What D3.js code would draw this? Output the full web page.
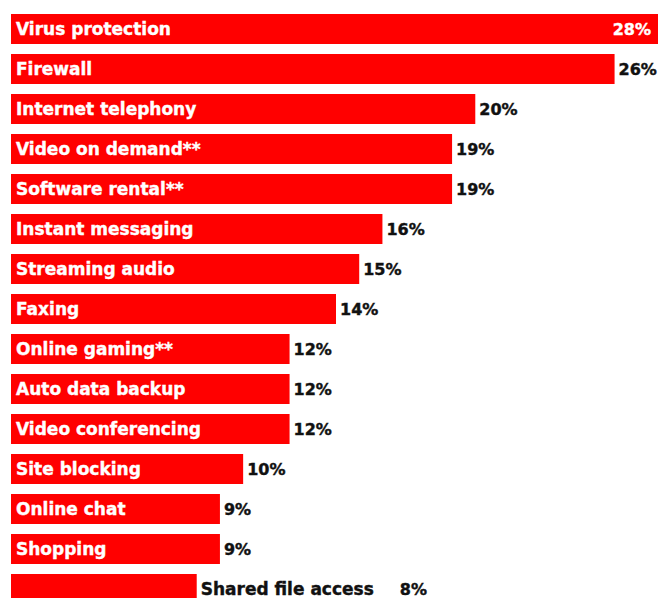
<!DOCTYPE html>
<html>
<head>
<meta charset="utf-8">
<script src="https://cdn.jsdelivr.net/npm/d3@7"></script>
<style>
  html, body { margin: 0; padding: 0; background: #fff; }
  svg { display: block; }
  text { font-family: "DejaVu Sans", "Liberation Sans", Arial, sans-serif; font-weight: bold; }
</style>
</head>
<body>
<svg id="chart"></svg>
<script>
const categories = ["Virus protection", "Firewall", "Internet telephony", "Video on demand**",
  "Software rental**", "Instant messaging", "Streaming audio", "Faxing", "Online gaming**",
  "Auto data backup", "Video conferencing", "Site blocking", "Online chat", "Shopping",
  "Shared file access"];
const values = [28, 26, 20, 19, 19, 16, 15, 14, 12, 12, 12, 10, 9, 9, 8];

const width = 658, height = 598;
const svg = d3.select("#chart").attr("width", width).attr("height", height);

// 0..28% spans 11px to ~661px (the top bar runs off the right edge)
const x = d3.scaleLinear().domain([0, 28]).range([11, 661]);
// 40px per row, 30px bars
const y = d3.scaleBand().domain(categories)
  .range([14, 14 + 40 * categories.length - 10])
  .paddingInner(0.25).paddingOuter(0);

const rows = svg.selectAll("g.row")
  .data(categories.map((c, i) => ({ name: c, value: values[i] })))
  .join("g")
  .attr("class", "row")
  .attr("transform", d => `translate(0,${y(d.name)})`);

rows.append("rect")
  .attr("x", x(0))
  .attr("width", d => x(d.value) - x(0))
  .attr("height", y.bandwidth())
  .attr("fill", "#ff0000");

const bh = y.bandwidth();
const base = bh / 2 + 6;

function label(g, tx, txt, color, size, anchor) {
  return g.append("text")
    .attr("x", tx)
    .attr("y", base)
    .attr("font-size", size)
    .attr("text-anchor", anchor || "start")
    .attr("fill", color)
    .attr("stroke", color)
    .attr("stroke-width", 0.4)
    .text(txt);
}

rows.each(function (d) {
  const g = d3.select(this);
  const barEnd = x(d.value);
  const name = label(g, x(0) + 5, d.name, "#fff", 17);
  const nameW = name.node().getComputedTextLength();
  if (nameW + 20 > barEnd - x(0)) {
    // name does not fit: put it after the bar in black
    name.attr("x", barEnd + 4).attr("fill", "#111").attr("stroke", "#111");
    label(g, barEnd + 4 + nameW + 26, d.value + "%", "#111", 16);
  } else if (barEnd > width) {
    label(g, width - 7, d.value + "%", "#fff", 16, "end");
  } else {
    label(g, barEnd + 4, d.value + "%", "#111", 16);
  }
});
</script>
</body>
</html>
